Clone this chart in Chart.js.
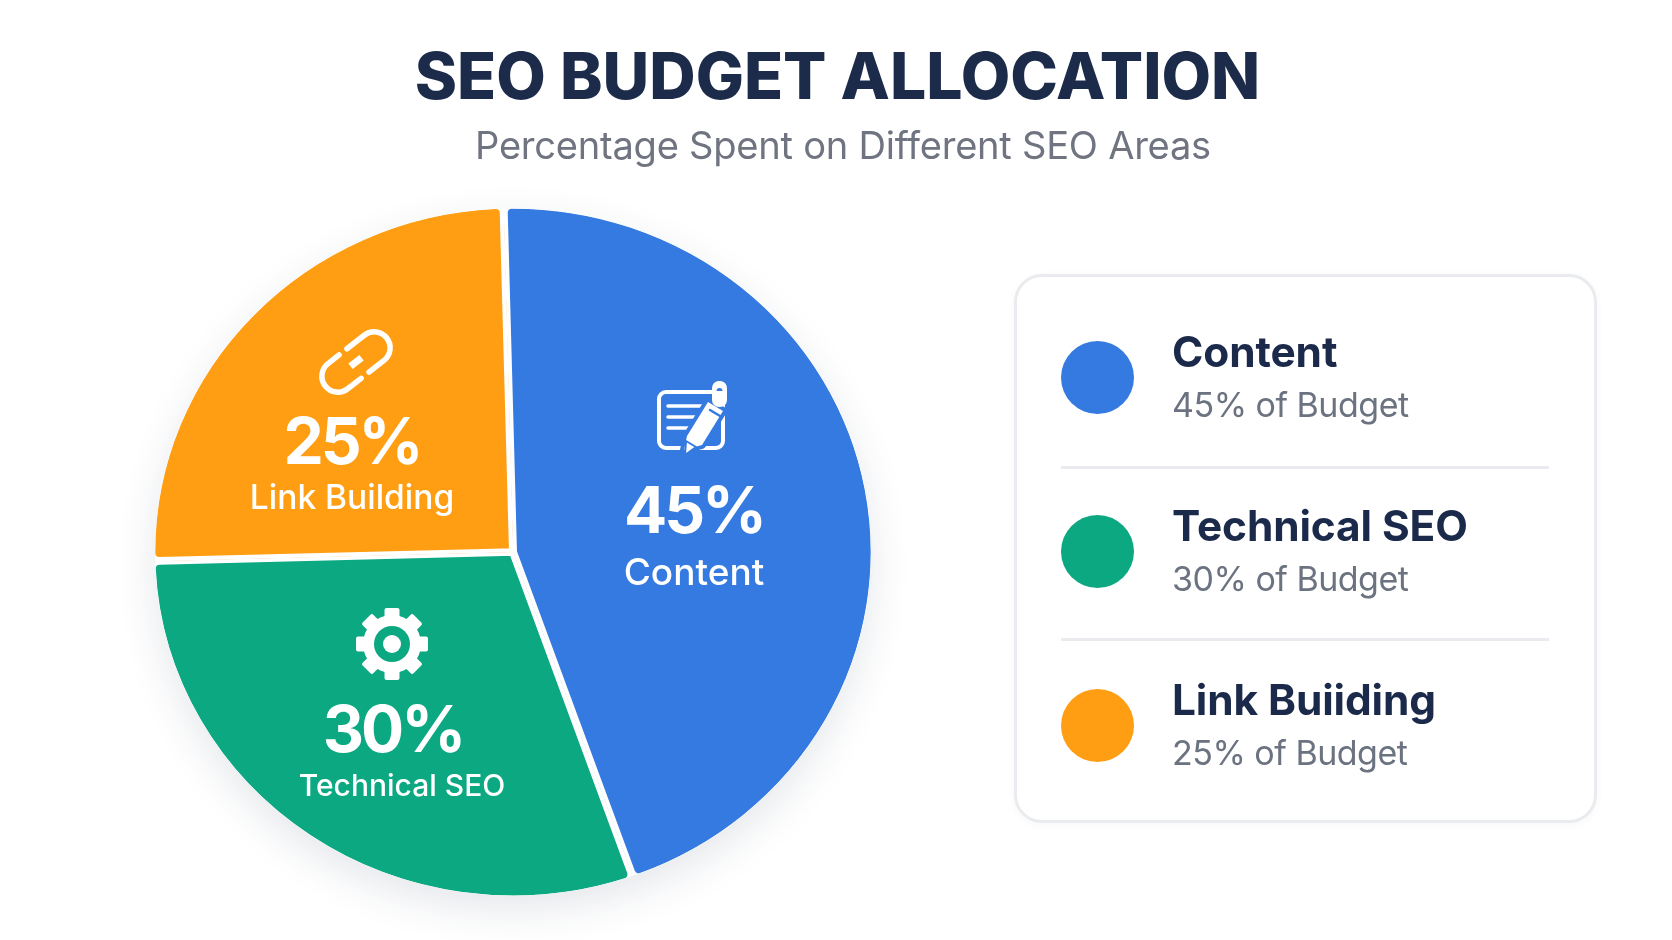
<!DOCTYPE html>
<html lang="en">
<head>
<meta charset="utf-8">
<title>SEO Budget Allocation</title>
<script src="https://cdn.jsdelivr.net/npm/chart.js@4/dist/chart.umd.min.js"></script>
<style>
  html, body { margin: 0; padding: 0; background: #fff; }
  body { position: relative; width: 1672px; height: 940px; overflow: hidden; font-family: Inter, sans-serif; }
  #pie { position: absolute; left: 0; top: 0; }
  .title { position: absolute; left: 0; width: 1675px; top: 38px; text-align: center; font-size: 64.2px; line-height: 76px; font-weight: 800; color: #1c2b4a; white-space: nowrap; }
  .subtitle { position: absolute; left: 0; width: 1686px; top: 121px; text-align: center; font-size: 38.1px; line-height: 48px; font-weight: 400; letter-spacing: -0.25px; color: #6f7480; white-space: nowrap; }
  .card { position: absolute; left: 1014px; top: 274px; width: 577px; height: 543px; border: 3px solid #e9ebee; border-radius: 28px; background: #fff; box-shadow: 0 2px 8px rgba(30, 40, 70, 0.04); }
  .row { position: absolute; left: 0; width: 100%; height: 100px; }
  .dot { position: absolute; left: 44px; top: 13px; width: 73px; height: 73px; border-radius: 50%; }
  .name { position: absolute; left: 155px; top: -1px; font-size: 42.4px; line-height: 50px; font-weight: 700; letter-spacing: -0.1px; color: #1b2a4a; white-space: nowrap; }
  .share { position: absolute; left: 155px; top: 55px; font-size: 34px; line-height: 44px; letter-spacing: -0.5px; color: #6b7280; white-space: nowrap; }
  .rule { position: absolute; left: 44px; width: 488px; height: 3px; background: #e9ebee; }
</style>
</head>
<body>
<canvas id="pie" width="1672" height="940"></canvas>
<div class="title">SEO BUDGET ALLOCATION</div>
<div class="subtitle">Percentage Spent on Different SEO Areas</div>
<div class="card" id="legend"></div>

<script>
const categories = ['Content', 'Technical SEO', 'Link Building'];
const legendNames = ['Content', 'Technical SEO', 'Link Buiiding'];
const shares = [45, 30, 25];
const colors = ['#357ae0', '#0ba882', '#ff9e12'];

// pie placement on the page, slightly flattened vertically
const PIE_X = 513;
const PIE_Y = 552;
const PIE_R = 362;
const PIE_SQUASH = 0.96;
const GAP = 8;

// where each slice's icon and captions sit, relative to the pie centre
const sliceLayout = [
  { icon: [180, -133], pct: [181, -38], name: [181, 22], nameSize: 37 },
  { icon: [-121, 92], pct: [-120, 181], name: [-111, 235], nameSize: 30 },
  { icon: [-157, -190], pct: [-161, -107], name: [-161, -53], nameSize: 33.5 },
];

const legendRowsTop = [51, 225, 399];
const legendRulesTop = [189, 361];

function buildLegend() {
  const box = document.getElementById('legend');
  legendNames.forEach((name, i) => {
    const row = document.createElement('div');
    row.className = 'row';
    row.style.top = `${legendRowsTop[i]}px`;
    row.innerHTML = `<div class="dot" style="background:${colors[i]}"></div>` +
      `<div class="name">${name}</div>` +
      `<div class="share">${shares[i]}% of Budget</div>`;
    box.appendChild(row);
  });
  legendRulesTop.forEach((top) => {
    const rule = document.createElement('div');
    rule.className = 'rule';
    rule.style.top = `${top}px`;
    box.appendChild(rule);
  });
}

function drawDocIcon(ctx, x, y, color) {
  ctx.save();
  ctx.translate(x, y);
  ctx.strokeStyle = '#fff';
  ctx.lineCap = 'round';
  ctx.lineWidth = 4;
  ctx.beginPath();
  ctx.roundRect(-34, -27, 64, 56, 7);
  ctx.stroke();
  ctx.lineWidth = 3.5;
  [[-25, 10, -13], [-25, 8, -2], [-25, -3, 9]].forEach(([a, b, ly]) => {
    ctx.beginPath();
    ctx.moveTo(a, ly);
    ctx.lineTo(b, ly);
    ctx.stroke();
  });

  // pencil body, with a halo cutting through the frame
  const body = new Path2D('M -9 31 L -6 17 L 15 -17 L 30 -8 L 9 26 Z');
  ctx.strokeStyle = color;
  ctx.lineWidth = 8;
  ctx.lineJoin = 'round';
  ctx.stroke(body);
  ctx.fillStyle = '#fff';
  ctx.fill(body);
  ctx.strokeStyle = color;
  ctx.lineWidth = 2.5;
  ctx.beginPath();
  ctx.moveTo(17, -9);
  ctx.lineTo(27, -3);
  ctx.stroke();
  // nib
  ctx.beginPath();
  ctx.moveTo(-7, 22);
  ctx.lineTo(-8, 36);
  ctx.lineTo(3, 28);
  ctx.closePath();
  ctx.fillStyle = '#fff';
  ctx.fill();
  ctx.strokeStyle = color;
  ctx.lineWidth = 2;
  ctx.stroke();
  // cap
  ctx.fillStyle = '#fff';
  ctx.beginPath();
  ctx.roundRect(19, -38, 15, 26, 7);
  ctx.fill();
  ctx.fillStyle = color;
  ctx.beginPath();
  ctx.arc(26.5, -28, 3, Math.PI, 0);
  ctx.fill();
  ctx.restore();
}

function drawLinkIcon(ctx, x, y) {
  ctx.save();
  ctx.translate(x, y);
  ctx.rotate(-38 * Math.PI / 180);
  ctx.strokeStyle = '#fff';
  ctx.lineWidth = 5.5;
  ctx.lineCap = 'round';
  ctx.beginPath();
  ctx.moveTo(-9, -16);
  ctx.lineTo(-23, -16);
  ctx.arc(-23, 0, 16, -Math.PI / 2, Math.PI / 2, true);
  ctx.lineTo(-6, 16);
  ctx.stroke();
  ctx.beginPath();
  ctx.moveTo(1, -16);
  ctx.lineTo(23, -16);
  ctx.arc(23, 0, 16, -Math.PI / 2, Math.PI / 2);
  ctx.lineTo(4, 16);
  ctx.stroke();
  ctx.lineWidth = 7;
  ctx.lineCap = 'butt';
  ctx.beginPath();
  ctx.moveTo(-7, 0);
  ctx.lineTo(7, 0);
  ctx.stroke();
  ctx.restore();
}

function drawGearIcon(ctx, x, y, color) {
  const teeth = 8;
  ctx.save();
  ctx.translate(x, y);
  ctx.fillStyle = '#fff';
  ctx.beginPath();
  ctx.arc(0, 0, 29, 0, Math.PI * 2);
  ctx.fill();
  for (let i = 0; i < teeth; i++) {
    ctx.save();
    ctx.rotate((i * Math.PI * 2) / teeth);
    ctx.beginPath();
    ctx.roundRect(-7.5, -36, 15, 14, 2);
    ctx.fill();
    ctx.restore();
  }
  ctx.fillStyle = color;
  ctx.beginPath();
  ctx.arc(0, 0, 18, 0, Math.PI * 2);
  ctx.fill();
  ctx.fillStyle = '#fff';
  ctx.beginPath();
  ctx.arc(0, 0, 9, 0, Math.PI * 2);
  ctx.fill();
  ctx.restore();
}

// flattening, slice captions, icons and the soft shadow under the pie
const sliceDecor = {
  id: 'sliceDecor',
  beforeDatasetsDraw(chart) {
    const { ctx } = chart;
    ctx.save();
    ctx.translate(0, PIE_Y);
    ctx.scale(1, PIE_SQUASH);
    ctx.translate(0, -PIE_Y);
  },
  afterDatasetsDraw(chart) {
    const { ctx } = chart;
    const arcs = chart.getDatasetMeta(0).data;
    const { x, y, outerRadius } = arcs[0];
    const visibleR = outerRadius - GAP / 2;

    // the inner border leaves a white rim, take it off so the shadow reaches the slices
    ctx.save();
    ctx.globalCompositeOperation = 'destination-out';
    ctx.lineWidth = GAP;
    ctx.beginPath();
    ctx.arc(x, y, outerRadius, 0, Math.PI * 2);
    ctx.stroke();

    ctx.globalCompositeOperation = 'destination-over';
    ctx.shadowColor = 'rgba(35, 50, 85, 0.12)';
    ctx.shadowBlur = 42;
    ctx.shadowOffsetY = 14;
    ctx.fillStyle = '#fff';
    ctx.beginPath();
    ctx.arc(x, y, visibleR - 1, 0, Math.PI * 2);
    ctx.fill();
    ctx.restore();

    // drop the flattening again before the text goes on
    ctx.restore();

    ctx.save();
    ctx.fillStyle = '#fff';
    ctx.textAlign = 'center';
    ctx.textBaseline = 'middle';
    sliceLayout.forEach((spot, i) => {
      ctx.letterSpacing = '-3px';
      ctx.font = '700 64px Inter';
      ctx.fillText(`${shares[i]}%`, x + spot.pct[0], y + spot.pct[1]);
      ctx.letterSpacing = '0px';
      ctx.font = `500 ${spot.nameSize}px Inter`;
      ctx.fillText(categories[i], x + spot.name[0], y + spot.name[1]);
    });
    ctx.restore();

    drawDocIcon(ctx, x + sliceLayout[0].icon[0], y + sliceLayout[0].icon[1], colors[0]);
    drawGearIcon(ctx, x + sliceLayout[1].icon[0], y + sliceLayout[1].icon[1], colors[1]);
    drawLinkIcon(ctx, x + sliceLayout[2].icon[0], y + sliceLayout[2].icon[1]);
  },
};

buildLegend();

new Chart(document.getElementById('pie'), {
  type: 'pie',
  data: {
    labels: categories,
    datasets: [{
      data: shares,
      backgroundColor: colors,
      borderColor: '#fff',
      borderWidth: GAP / 2,
      borderAlign: 'inner',
      borderRadius: { outerStart: 8, outerEnd: 8, innerStart: 0, innerEnd: 0 },
      hoverOffset: 0,
    }],
  },
  options: {
    responsive: false,
    animation: false,
    events: [],
    rotation: -1.5,
    layout: {
      padding: {
        left: PIE_X - PIE_R,
        right: 1672 - PIE_X - PIE_R,
        top: PIE_Y - PIE_R,
        bottom: 940 - PIE_Y - PIE_R,
      },
    },
    plugins: {
      legend: { display: false },
      tooltip: { enabled: false },
    },
  },
  plugins: [sliceDecor],
});
</script>
</body>
</html>
